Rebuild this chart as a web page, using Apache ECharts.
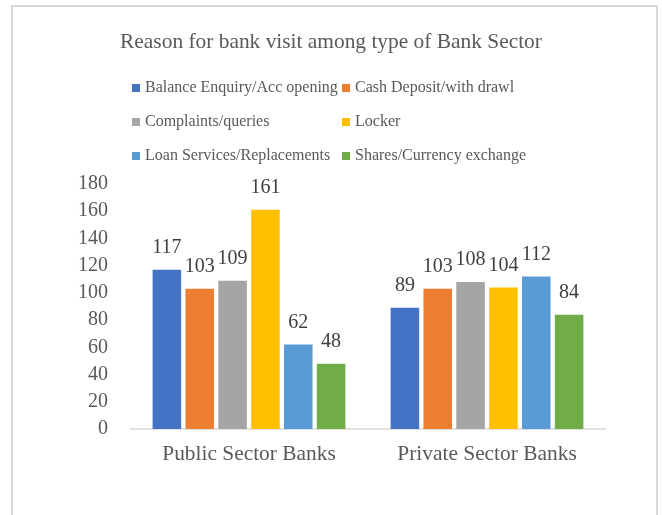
<!DOCTYPE html>
<html>
<head>
<meta charset="utf-8">
<script src="https://cdn.jsdelivr.net/npm/echarts@6/dist/echarts.min.js"></script>
<style>
  html, body { margin: 0; padding: 0; background: #fff; }
  #chart { width: 662px; height: 515px; }
</style>
</head>
<body>
<div id="chart"></div>
<script>
// Bank sector categories on the x axis
const categories = ['Public Sector Banks', 'Private Sector Banks'];

// Reasons for visiting (one series each), values per sector
const seriesNames = [
  'Balance Enquiry/Acc opening',
  'Cash Deposit/with drawl',
  'Complaints/queries',
  'Locker',
  'Loan Services/Replacements',
  'Shares/Currency exchange'
];
const balanceEnquiry = [117, 89];
const cashDeposit = [103, 103];
const complaints = [109, 108];
const locker = [161, 104];
const loanServices = [62, 112];
const sharesCurrency = [48, 84];

const yTicks = [0, 20, 40, 60, 80, 100, 120, 140, 160, 180];

const colors = ['#4472C4', '#ED7D31', '#A5A5A5', '#FFC000', '#5B9BD5', '#70AD47'];
const seriesData = [balanceEnquiry, cashDeposit, complaints, locker, loanServices, sharesCurrency];

const serif = '"Liberation Serif", "Times New Roman", serif';

// Legend laid out as a two-column grid, one legend component per entry
const legendCols = [132, 342];
const legendRows = [80, 114, 148];
const legends = seriesNames.map(function (name, i) {
  return {
    data: [name],
    left: legendCols[i % 2],
    top: legendRows[Math.floor(i / 2)],
    padding: 0,
    itemWidth: 8,
    itemHeight: 8,
    icon: 'rect',
    textStyle: { fontFamily: serif, fontSize: 16, color: '#595959' }
  };
});

const chart = echarts.init(document.getElementById('chart'), null, { renderer: 'canvas' });

chart.setOption({
  animation: false,
  backgroundColor: '#fff',
  color: colors,
  graphic: [{
    type: 'rect',
    shape: { x: 12, y: 6, width: 645, height: 530 },
    style: { fill: 'none', stroke: '#D9D9D9', lineWidth: 2 },
    silent: true,
    z: -1
  }],
  title: {
    text: 'Reason for bank visit among type of Bank Sector',
    left: 'center',
    top: 27,
    textStyle: { fontFamily: serif, fontSize: 21.4, fontWeight: 'normal', color: '#595959' }
  },
  legend: legends,
  grid: { left: 130, right: 56, top: 184, bottom: 86, containLabel: false },
  xAxis: {
    type: 'category',
    data: categories,
    axisTick: { show: false },
    axisLine: { lineStyle: { color: '#D9D9D9', width: 1.5 } },
    axisLabel: { fontFamily: serif, fontSize: 21.4, color: '#595959', margin: 15 }
  },
  yAxis: {
    type: 'value',
    min: yTicks[0],
    max: yTicks[yTicks.length - 1],
    interval: yTicks[1] - yTicks[0],
    splitLine: { show: false },
    axisLine: { show: false },
    axisTick: { show: false },
    axisLabel: { fontFamily: serif, fontSize: 20, color: '#595959', margin: 22 }
  },
  series: seriesNames.map(function (name, i) {
    return {
      name: name,
      type: 'bar',
      data: seriesData[i],
      barGap: '15%',
      barCategoryGap: '19%',
      itemStyle: { color: colors[i] },
      label: {
        show: true,
        position: 'top',
        distance: 12,
        fontFamily: serif,
        fontSize: 20,
        color: '#404040'
      }
    };
  })
});
</script>
</body>
</html>
